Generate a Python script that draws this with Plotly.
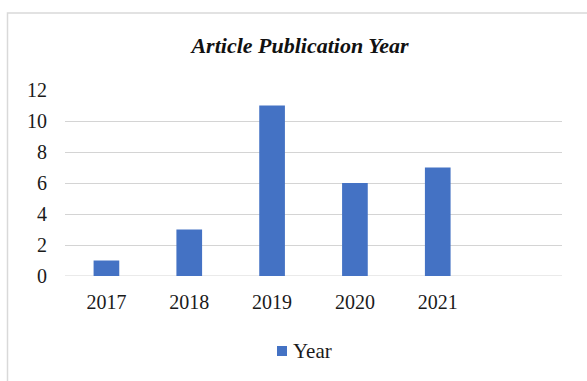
import plotly.graph_objects as go

years = ["2017", "2018", "2019", "2020", "2021"]
counts = [1, 3, 11, 6, 7]
series_name = "Year"
title_text = "Article Publication Year"

W, H = 587, 381
L, R, T, B = 65, 25, 90, 105
pw, ph = W - L - R, H - T - B

def px_to_paper_x(px):
    return (px - L) / pw

def px_to_paper_y(py):
    return (H - B - py) / ph

font_family = "Liberation Serif, Times New Roman, serif"
bar_color = "#4472C4"

fig = go.Figure()
fig.add_trace(go.Bar(
    x=years, y=counts, name=series_name,
    marker=dict(color=bar_color, line=dict(width=0)),
    width=0.31, showlegend=False,
))

fig.update_layout(
    width=W, height=H,
    margin=dict(l=L, r=R, t=T, b=B),
    paper_bgcolor="white", plot_bgcolor="white",
    font=dict(family=font_family, size=20, color="#1a1a1a"),
    title=dict(
        text="<b><i>" + title_text + "</i></b>",
        font=dict(family=font_family, size=22, color="#111111"),
        xref="container", yref="container",
        x=300 / W, y=1 - 45 / H, xanchor="center", yanchor="middle",
    ),
    showlegend=False,
)

fig.update_xaxes(
    type="category", categoryorder="array", categoryarray=years,
    range=[-0.5, 5.5], showgrid=False, zeroline=False, showline=False,
    ticks="outside", ticklen=8, tickcolor="rgba(0,0,0,0)",
    tickfont=dict(family=font_family, size=20, color="#1a1a1a"),
)
fig.update_yaxes(
    range=[0, 12], dtick=2, tick0=0, showgrid=True,
    gridcolor="#d4d4d4", gridwidth=1, zeroline=False, showline=False,
    ticks="outside", ticklen=13, tickcolor="rgba(0,0,0,0)",
    tickfont=dict(family=font_family, size=20, color="#1a1a1a"),
)
# baseline gridline at 0
fig.add_shape(type="line", xref="paper", yref="y", x0=0, x1=1, y0=0, y1=0,
              line=dict(color="#d4d4d4", width=1), layer="below")

# outer chart frame
fig.add_shape(type="rect", xref="paper", yref="paper",
              x0=px_to_paper_x(7.5), x1=px_to_paper_x(610),
              y0=px_to_paper_y(400), y1=px_to_paper_y(13),
              line=dict(color="#d9d9d9", width=1.5), fillcolor="rgba(0,0,0,0)",
              layer="below")

# legend (drawn manually to match the compact key)
fig.add_shape(type="rect", xref="paper", yref="paper",
              x0=px_to_paper_x(277), x1=px_to_paper_x(287),
              y0=px_to_paper_y(356), y1=px_to_paper_y(346),
              line=dict(width=0), fillcolor=bar_color)
fig.add_annotation(text=series_name, xref="paper", yref="paper",
                   x=px_to_paper_x(291), y=px_to_paper_y(351),
                   xanchor="left", yanchor="middle", showarrow=False,
                   font=dict(family=font_family, size=21, color="#1a1a1a"))

fig.write_html("out.html")
